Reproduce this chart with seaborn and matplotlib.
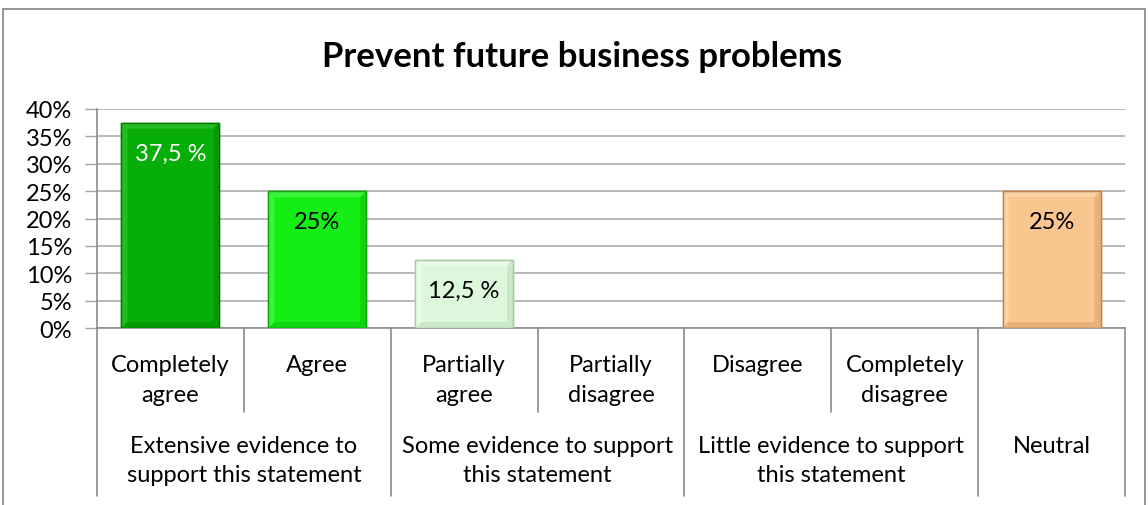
import matplotlib
matplotlib.use("Agg")
import matplotlib.pyplot as plt
import matplotlib.patches as mpatches
from matplotlib.ticker import FuncFormatter
import seaborn as sns
import pandas as pd

# Survey responses
responses = ["Completely agree", "Agree", "Partially agree", "Partially disagree",
             "Disagree", "Completely disagree", "Neutral"]
response_labels = ["Completely\nagree", "Agree", "Partially\nagree", "Partially\ndisagree",
                   "Disagree", "Completely\ndisagree", ""]
shares = [37.5, 25.0, 12.5, 0.0, 0.0, 0.0, 25.0]
value_texts = ["37,5 %", "25%", "12,5 %", "", "", "", "25%"]
groups = ["Extensive evidence to\nsupport this statement",
          "Some evidence to support\nthis statement",
          "Little evidence to support\nthis statement",
          "Neutral"]
group_spans = [(0, 1), (2, 3), (4, 5), (6, 6)]
yticks = [0, 5, 10, 15, 20, 25, 30, 35, 40]

bar_colors = ["#07AE07", "#14EE14", "#DDF7DD", "#E0F5E0", "#E0F5E0", "#E0F5E0", "#FAC690"]
light_colors = ["#3CC83C", "#5CF85C", "#F4FDF4", "#F4FDF4", "#F4FDF4", "#F4FDF4", "#FDDDB8"]
dark_colors = ["#058A05", "#0FC00F", "#B8DDB8", "#B8DDB8", "#B8DDB8", "#B8DDB8", "#D9A06A"]
edge_colors = ["#067A06", "#0EA80E", "#A6CCA6", "#A6CCA6", "#A6CCA6", "#A6CCA6", "#C08650"]
label_colors = ["white", "black", "black", "black", "black", "black", "black"]

sns.set_theme(style="white")
plt.rcParams["font.family"] = ["Lato", "DejaVu Sans"]
plt.rcParams["text.color"] = "black"

W, H = 1148, 506
fig = plt.figure(figsize=(W / 100, H / 100), dpi=100)

# Axes placement in pixels
left_px, right_px, top_px, bottom_px = 97, 1125, 110, 329
ax = fig.add_axes([left_px / W, 1 - bottom_px / H,
                   (right_px - left_px) / W, (bottom_px - top_px) / H])

df = pd.DataFrame({"response": responses, "share": shares})
sns.barplot(data=df, x="response", y="share", hue="response", palette=bar_colors,
            order=responses, hue_order=responses, legend=False, width=0.667,
            ax=ax, zorder=3, saturation=1)

ax.set_ylim(0, 40)
ax.set_xlim(-0.5, len(responses) - 0.5)

# Bevelled look for each bar
px_per_x = (right_px - left_px) / len(responses)
px_per_y = (bottom_px - top_px) / 40
bev = 6
for patch, ec, lc, dc, v in zip(ax.patches, edge_colors, light_colors, dark_colors, shares):
    if v <= 0:
        patch.set_visible(False)
        continue
    patch.set_edgecolor(ec)
    patch.set_linewidth(1.0)
    x0, w, h = patch.get_x(), patch.get_width(), patch.get_height()
    x1 = x0 + w
    bx, by = bev / px_per_x, bev / px_per_y
    top = [(x0, h), (x1, h), (x1 - bx, h - by), (x0 + bx, h - by)]
    bottom = [(x0, 0), (x1, 0), (x1 - bx, by), (x0 + bx, by)]
    lside = [(x0, 0), (x0, h), (x0 + bx, h - by), (x0 + bx, by)]
    rside = [(x1, 0), (x1, h), (x1 - bx, h - by), (x1 - bx, by)]
    for poly, col in [(top, lc), (bottom, dc), (lside, lc), (rside, dc)]:
        ax.add_patch(mpatches.Polygon(poly, closed=True, facecolor=col,
                                      edgecolor="none", alpha=0.55, zorder=3.5))
    ax.add_patch(mpatches.Rectangle((x0, 0), w, h, fill=False, edgecolor=ec,
                                    linewidth=1.0, zorder=3.6))

ax.set_yticks(yticks)
ax.yaxis.set_major_formatter(FuncFormatter(lambda v, p: f"{v:.0f}%"))
ax.tick_params(axis="y", length=9, width=1, color="#A0A0A0", labelsize=17,
               pad=9, left=True, labelcolor="black")
ax.tick_params(axis="x", bottom=False, labelbottom=False)
ax.set_xlabel("")
ax.set_ylabel("")
ax.grid(axis="y", color="#A6A6A6", linewidth=1.1, zorder=0)
ax.set_axisbelow(True)
for side in ["top", "right"]:
    ax.spines[side].set_visible(False)
ax.spines["left"].set_color("#8C8C8C")
ax.spines["bottom"].set_color("#8C8C8C")
ax.spines["left"].set_linewidth(1.2)
ax.spines["bottom"].set_linewidth(1.2)

# Value labels inside the top of each bar
for i, (v, t, c) in enumerate(zip(shares, value_texts, label_colors)):
    if t:
        ax.annotate(t, xy=(i, v), xytext=(0, -22), textcoords="offset points",
                    ha="center", va="center", fontsize=17, color=c, zorder=5)

# Two-level category axis below the plot
trans = ax.get_xaxis_transform()
h_ax = bottom_px - top_px
row1 = -(413 - bottom_px) / h_ax
row2 = -(497 - bottom_px) / h_ax
line_kw = dict(color="#8C8C8C", linewidth=1.2, transform=trans, clip_on=False)

group_edges = set()
for a, b in group_spans:
    group_edges.add(a - 0.5)
    group_edges.add(b + 0.5)
for k in range(len(responses) + 1):
    xb = k - 0.5
    ybot = row2 if xb in group_edges else row1
    ax.plot([xb, xb], [0, ybot], **line_kw)

lab_top = -(355 - bottom_px) / h_ax
grp_top = -(436 - bottom_px) / h_ax
for i, lab in enumerate(response_labels):
    if lab:
        ax.text(i, lab_top, lab, transform=trans, ha="center", va="top",
                fontsize=17, linespacing=1.55, color="black", clip_on=False)

for g, (a, b) in zip(groups, group_spans):
    ax.text((a + b) / 2, grp_top, g, transform=trans, ha="center",
            va="top", fontsize=17, linespacing=1.5, color="black", clip_on=False)

# Title
fig.text(582 / W, 1 - 57 / H, "Prevent future business problems", ha="center",
         va="center", fontsize=25, fontweight="bold", color="black")

# Chart frame
frame = mpatches.Rectangle((3 / W, -0.05), (1145 - 3) / W, 1 - 10 / H + 0.05,
                           transform=fig.transFigure, fill=False,
                           edgecolor="#8C8C8C", linewidth=1.3)
fig.patches.append(frame)

fig.savefig("out.png", dpi=100)
